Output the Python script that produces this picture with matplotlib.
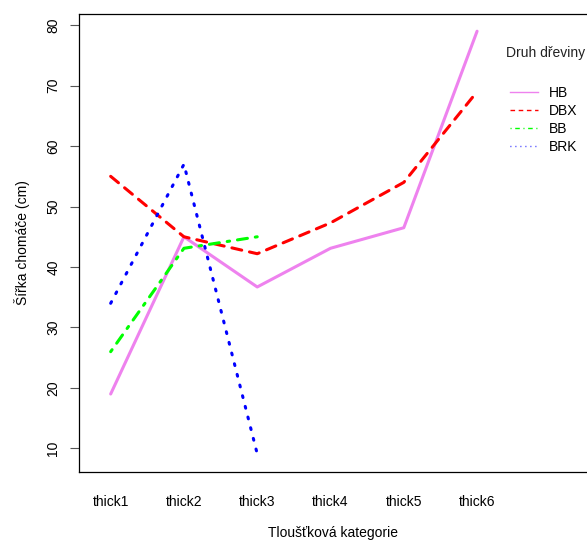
import numpy as np
import matplotlib
matplotlib.use("Agg")
from matplotlib import pyplot as plt
from matplotlib.lines import Line2D

plt.rcParams['font.family'] = ['Liberation Sans', 'DejaVu Sans']

categories = ['thick1', 'thick2', 'thick3', 'thick4', 'thick5', 'thick6']
hb = [19, 45, 36.7, 43.1, 46.5, 79]
dbx = [55, 45, 42.2, 47.3, 54, 69]
bb = [26, 43.1, 45]
brk = [34, 57, 9.1]
species = ['HB', 'DBX', 'BB', 'BRK']

fig = plt.figure(figsize=(5.87, 5.41), dpi=100)
ax = fig.add_axes([0.1351, 0.1281, 0.8649, 0.8455])

x = np.arange(1, len(categories) + 1)
lw = 2.2
styles = {
    'HB': dict(color='violet', linestyle='-'),
    'DBX': dict(color='red', linestyle=(0, (3.3, 2.6))),
    'BB': dict(color='#00ff00', linestyle=(0, (0.8, 2.6, 3.3, 2.6))),
    'BRK': dict(color='blue', linestyle=(0, (0.6, 3.0))),
}
series = {'HB': hb, 'DBX': dbx, 'BB': bb, 'BRK': brk}

for name in species:
    vals = series[name]
    ax.plot(x[:len(vals)], vals, lw=lw, solid_capstyle='round',
            dash_capstyle='round', **styles[name])

ax.set_xlim(0.572, 7.5)
ax.set_ylim(6.15, 81.8)

ax.set_xticks(x)
ax.set_xticklabels(categories, fontsize=10)
ax.tick_params(axis='x', length=0, pad=17)

ax.set_yticks(np.arange(10, 81, 10))
ax.tick_params(axis='y', length=6.2, width=0.8, color='#555555', pad=7.5, labelsize=10)
for lab in ax.get_yticklabels():
    lab.set_rotation(90)
    lab.set_va('center')

for side in ['left', 'top', 'bottom']:
    ax.spines[side].set_linewidth(0.9)
    ax.spines[side].set_color('black')
ax.spines['right'].set_visible(False)

ax.set_xlabel('Tloušťková kategorie', fontsize=10, labelpad=12)
ax.set_ylabel('Šířka chomáče (cm)', fontsize=10, labelpad=12)

# legend, title placed separately
handles = [Line2D([], [], lw=1, **styles[n]) for n in species]
ax.text(506 / 587, 1 - 53 / 541, 'Druh dřeviny', transform=fig.transFigure,
        fontsize=10, va='center', ha='left', color='#222222')
leg = ax.legend(handles, species, loc='upper left', frameon=False,
                bbox_to_anchor=(500 / 587, 1 - 76 / 541),
                bbox_transform=fig.transFigure, fontsize=10,
                handlelength=2.0, handletextpad=0.8, labelspacing=0.3,
                borderpad=0.2)

fig.savefig('out.png', dpi=100)
